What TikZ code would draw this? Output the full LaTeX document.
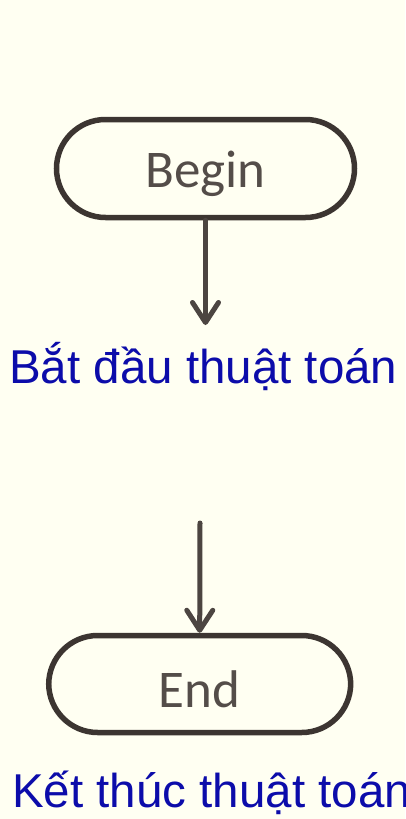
\documentclass[tikz,border=0pt]{standalone}
\usepackage{fontspec}
\setmainfont{Liberation Sans}
\newfontfamily\termfont{Carlito}
\usetikzlibrary{arrows.meta}
\definecolor{paper}{RGB}{255,255,242}
\definecolor{ink}{RGB}{60,53,49}
\definecolor{termtext}{RGB}{84,77,73}
\definecolor{note}{RGB}{12,12,170}
\tikzset{
  terminal/.style={draw=ink, line width=5.5pt, rounded corners=49pt,
    minimum width=298pt, minimum height=98pt, inner sep=0pt,
    text=termtext, font=\termfont\fontsize{53}{53}\selectfont},
  flow/.style={draw=ink!92!white, line width=5pt, line cap=round,
    -{Straight Barb[length=20pt,width=26pt,line width=5pt,round]}},
  caption/.style={text=note, anchor=base west, inner sep=0pt,
    font=\fontsize{47.5}{47.5}\selectfont}
}
% lower the label ink a little while keeping its box centred
\newcommand{\termlabel}[1]{\raisebox{-5pt}[\height][\depth]{#1}}
\begin{document}
\begin{tikzpicture}[x=1pt,y=-1pt]
  \fill[paper] (0,0) rectangle (405,819);
  \useasboundingbox (0,0) rectangle (405,819);

  \node[terminal] (begin) at (205.5,168.5) {\termlabel{Begin}};
  \coordinate (beginTip) at (205.5,325);
  \node[caption] (beginNote) at (9,383) {Bắt đầu thuật toán};

  \coordinate (endFrom) at (200,523);
  \node[terminal, minimum width=302pt, minimum height=97pt] (end) at (199.7,684) {\termlabel{End}};
  \node[caption] (endNote) at (12,807) {Kết thúc thuật toán};

  \draw[flow] (begin.south) -- (beginTip);
  \draw[flow] (endFrom) -- (end.north);
\end{tikzpicture}
\end{document}
